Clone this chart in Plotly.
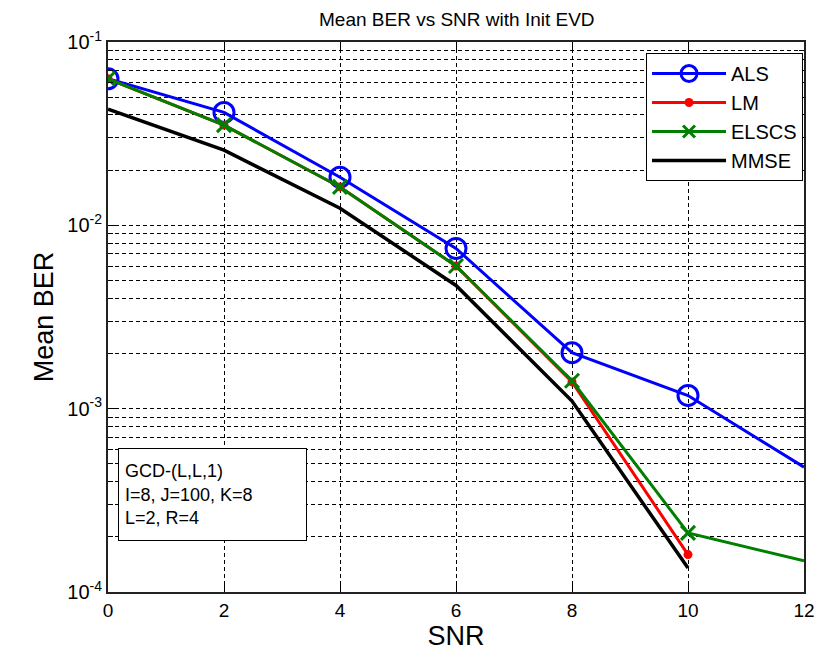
import plotly.graph_objects as go

snr = [0, 2, 4, 6, 8, 10, 12]
als = [0.0630, 0.0413, 0.0183, 0.00748, 0.00202, 0.00118, 0.000480]
snr_lm = [0, 2, 4, 6, 8, 10]
lm = [0.0630, 0.0352, 0.0162, 0.00600, 0.00140, 0.000160]
elscs = [0.0630, 0.0352, 0.0162, 0.00600, 0.00142, 0.000210, 0.000148]
snr_mmse = [0, 2, 4, 6, 8, 10]
mmse = [0.0430, 0.0257, 0.0124, 0.00470, 0.00110, 0.000135]

ytick_vals = [1e-4, 1e-3, 1e-2, 1e-1]
ytick_text = ["10<sup>-4</sup>", "10<sup>-3</sup>", "10<sup>-2</sup>", "10<sup>-1</sup>"]
minor_vals = [m * d for d in (1e-4, 1e-3, 1e-2) for m in range(2, 10)]

font = "Arial, Liberation Sans, sans-serif"

# the last point (x=12) is where the curve leaves the axes: no marker there
als_sizes = [20] * (len(snr) - 1) + [0]
elscs_sizes = [14] * (len(snr) - 1) + [0]

fig = go.Figure()
fig.add_trace(go.Scatter(x=snr, y=als, name="ALS", mode="lines+markers",
                         line=dict(color="#0000FF", width=3),
                         marker=dict(symbol="circle-open", size=als_sizes, color="#0000FF", opacity=1,
                                     line=dict(width=3, color="#0000FF"))))
fig.add_trace(go.Scatter(x=snr_lm, y=lm, name="LM", mode="lines+markers",
                         line=dict(color="#FF0000", width=3),
                         marker=dict(symbol="circle", size=9, color="#FF0000", opacity=1)))
fig.add_trace(go.Scatter(x=snr, y=elscs, name="ELSCS", mode="lines+markers",
                         line=dict(color="#008000", width=3),
                         marker=dict(symbol="x-thin-open", size=elscs_sizes, color="#008000", opacity=1,
                                     line=dict(width=3, color="#008000"))))
fig.add_trace(go.Scatter(x=snr_mmse, y=mmse, name="MMSE", mode="lines",
                         line=dict(color="#000000", width=3.5)))

grid_dash = "4px,3px"
fig.update_layout(
    width=819, height=649,
    margin=dict(l=100, r=19, t=34, b=65),
    paper_bgcolor="white", plot_bgcolor="white",
    font=dict(family=font, color="black"),
    title=dict(text="Mean BER vs SNR with Init EVD", x=0.548, xanchor="center", y=0.982, yanchor="middle",
               font=dict(size=19, family=font)),
    showlegend=True,
    legend=dict(x=0.9986, y=0.98, xanchor="right", yanchor="top",
                bgcolor="white", bordercolor="black", borderwidth=1,
                font=dict(size=20, family=font), itemwidth=74, tracegroupgap=0),
    xaxis=dict(range=[0, 12], tickvals=snr, ticks="inside", ticklen=7, tickcolor="black",
               showline=True, linecolor="#222222", linewidth=2, mirror="allticks",
               showgrid=True, gridcolor="black", griddash=grid_dash, gridwidth=1,
               zeroline=False, tickfont=dict(size=19, family=font),
               title=dict(text="SNR", font=dict(size=27, family=font), standoff=4)),
    yaxis=dict(type="log", range=[-4, -1], tickvals=ytick_vals, ticktext=ytick_text,
               ticks="inside", ticklen=7, tickcolor="black",
               showline=True, linecolor="#222222", linewidth=2, mirror="allticks",
               showgrid=True, gridcolor="black", griddash=grid_dash, gridwidth=1,
               zeroline=False, tickfont=dict(size=20, family=font),
               minor=dict(tickvals=minor_vals, ticks="inside", ticklen=5, tickcolor="black",
                          showgrid=True, gridcolor="black", griddash=grid_dash, gridwidth=1),
               title=dict(text="Mean BER", font=dict(size=27, family=font), standoff=6)),
)

fig.add_annotation(xref="paper", yref="paper", x=0.0143, y=0.2618, xanchor="left", yanchor="top",
                   text="GCD-(L,L,1)<br>I=8, J=100, K=8<br>L=2, R=4", align="left", showarrow=False,
                   font=dict(size=18, family=font), bgcolor="white", bordercolor="black", borderwidth=1,
                   borderpad=6, width=175, height=79)

fig.write_html("out.html")
